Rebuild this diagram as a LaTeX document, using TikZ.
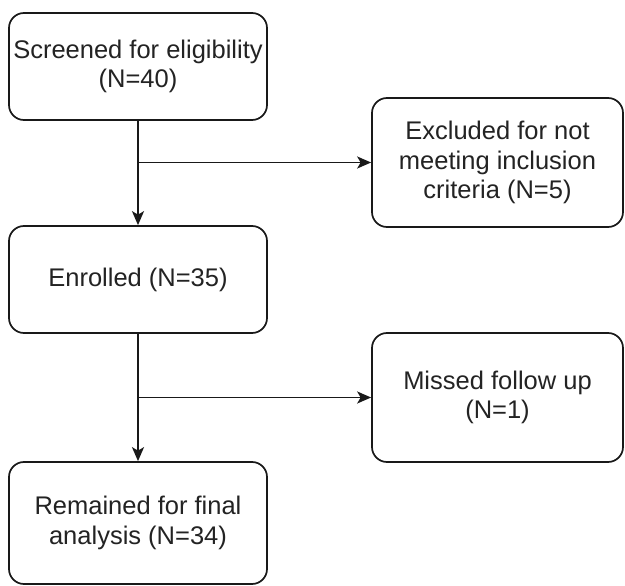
\documentclass[tikz,border=0pt]{standalone}
\usepackage{fontspec}
\setmainfont{Liberation Sans}
\usepackage{tikz}
\usetikzlibrary{arrows.meta, positioning}
\definecolor{boxline}{RGB}{25, 25, 25}
\definecolor{textgray}{RGB}{35, 35, 35}

\begin{document}
\begin{tikzpicture}[x=1pt, y=-1pt,
        stage/.style={draw=boxline, line width=1.7pt, rounded corners=15pt, fill=white,
            align=center, text=textgray, inner sep=0pt,
            font=\fontsize{25.5}{29.5}\selectfont},
        mainbox/.style={stage, minimum width=258pt, minimum height=107pt},
        sidebox/.style={stage, minimum width=251pt, minimum height=129pt},
        flow/.style={line width=1.9pt, draw=boxline, -{Stealth[length=14pt, width=12pt, inset=3.5pt]}}]
        \useasboundingbox (0,0) rectangle (625,586);

        % Main column
        \node[mainbox] (screen) at (138,66.5) {Screened for eligibility\\(N=40)};
        \node[mainbox] (enrol) at (138,279.5) {Enrolled (N=35)};
        \node[mainbox, minimum height=122pt] (remain) at (138,523) {Remained for final\\analysis (N=34)};

        % Side boxes
        \node[sidebox] (excl) at (497.5,162.5) {Excluded for not\\meeting inclusion\\criteria (N=5)};
        \node[sidebox] (missed) at (497.5,397.5) {Missed follow up\\(N=1)};

        % Split points
        \coordinate (split1) at (screen.south |- excl.west);
        \coordinate (split2) at (enrol.south |- missed.west);

        % Arrows
        \draw[flow] (screen) -- (enrol);
        \draw[flow] (split1) -- (excl);
        \draw[flow] (enrol) -- (remain);
        \draw[flow] (split2) -- (missed);
    \end{tikzpicture}
\end{document}
